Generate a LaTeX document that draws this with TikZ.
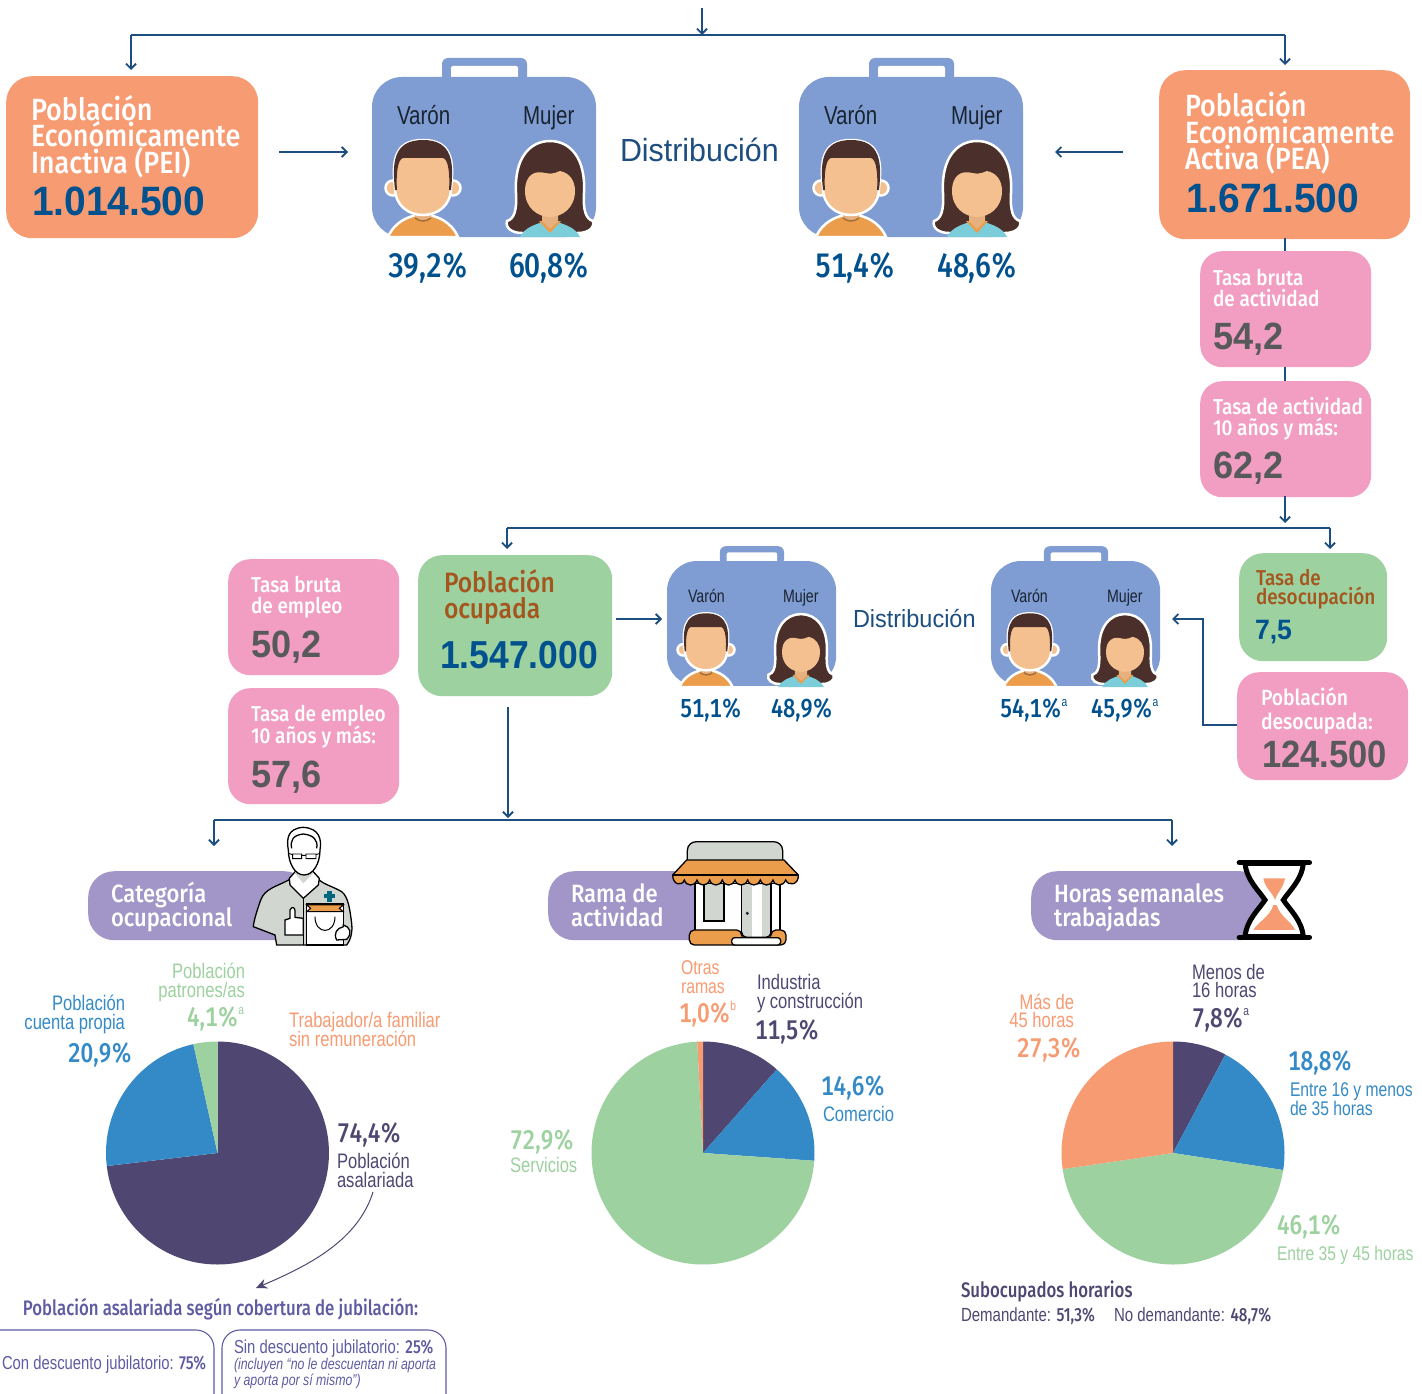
\documentclass[tikz,border=0pt]{standalone}
\usepackage{fontspec}
\usetikzlibrary{arrows.meta,calc}
\setmainfont{Liberation Sans}
\newfontfamily\fcond[FakeStretch=.79]{Liberation Sans}
\newfontfamily\fcondb[FakeStretch=.8]{Fira Sans Medium}
\newfontfamily\fnum[FakeStretch=.84,Numbers=Monospaced]{Fira Sans Medium}
\newfontfamily\fmed[FakeStretch=.88]{Fira Sans Medium}
\newfontfamily\fnorm[FakeStretch=.95]{Liberation Sans}
\newfontfamily\fbig[FakeStretch=.95]{Liberation Sans Bold}
\newfontfamily\fbigt[FakeStretch=.91]{Liberation Sans Bold}
\newcommand\fs[2]{\lineskiplimit=-100pt\fontsize{#1}{#2}\selectfont}
\newcommand\supx[1]{\raisebox{.42em}{\fcond\fs{13}{13}#1}}
\definecolor{cdark}{HTML}{4F4772}
\definecolor{cblue}{HTML}{348AC7}
\definecolor{cgreen}{HTML}{9DD19F}
\definecolor{corange}{HTML}{F79B72}
\definecolor{cpink}{HTML}{F19EC2}
\definecolor{clav}{HTML}{A196C7}
\definecolor{cnavy}{HTML}{00518D}
\definecolor{cline}{HTML}{1D4E80}
\definecolor{cgrayt}{HTML}{58595B}
\definecolor{cbrown}{HTML}{A5561E}
\definecolor{cindigo}{HTML}{5F5BA3}
\definecolor{ccase}{HTML}{7F9CD3}
\definecolor{cskin}{HTML}{F4C08F}
\definecolor{cneck}{HTML}{E7B07F}
\definecolor{chair}{HTML}{4B2F2A}
\definecolor{cshirt}{HTML}{EC9D4B}
\definecolor{ccyan}{HTML}{7BCDD9}
\definecolor{cicon}{HTML}{D1D6D0}
\definecolor{cink}{HTML}{1A2430}
\definecolor{ccross}{HTML}{00677F}
\tikzset{
  tx/.style={inner sep=0,outer sep=0,anchor=base west,align=left},
  txr/.style={inner sep=0,outer sep=0,anchor=base east,align=right},
  flow/.style={draw=cline,line width=1.9pt},
  arr/.style={flow,-{Straight Barb[length=5pt,width=10pt,line width=1.9pt]}},
  orangebox/.style={fill=corange,rounded corners=26pt},
  pinkbox/.style={fill=cpink,rounded corners=22pt},
  greenbox/.style={fill=cgreen,rounded corners=24pt},
  lavbox/.style={fill=clav,rounded corners=26pt},
  jubbox/.style={draw=cindigo,line width=1.1pt,rounded corners=18pt},
  icon/.style={draw=black,line width=1.3pt},
  caseicon/.pic={
    \fill[ccase,rounded corners=6pt] (70,5) rectangle (155,-19);
    \fill[white,rounded corners=2pt] (79,5) rectangle (146,-11);
    \fill[ccase,rounded corners=30pt] (0,0) rectangle (224,160);
  },
  manicon/.pic={
    \path[draw=white,line width=2.5pt,fill=cshirt] (-35,54) .. controls (-28,38) and (-14,34) .. (-7,32) -- (7,32) .. controls (14,34) and (28,38) .. (35,54) -- cycle;
    \draw[white,line width=2.5pt,fill=cskin] (-30,5) circle (7.5);
    \draw[white,line width=2.5pt,fill=cskin] (30,5) circle (7.5);
    \fill[cneck] (-8,25) -- (8,25) -- (8,35) .. controls (3,39) and (-3,39) .. (-8,35) -- cycle;
    \draw[cshirt!70!black,line width=1.5pt] (-8,35) .. controls (-3,39) and (3,39) .. (8,35);
    \path[draw=white,line width=2.5pt,fill=cskin] (-28,5) .. controls (-31,-20) and (-30,-43) .. (0,-43) .. controls (30,-43) and (31,-20) .. (28,5) .. controls (28,22) and (15,32) .. (0,32) .. controls (-15,32) and (-28,22) .. (-28,5) -- cycle;
    \fill[chair] (-28,7) .. controls (-31,-20) and (-30,-43) .. (0,-43) .. controls (30,-43) and (31,-20) .. (28,7) -- (26,7) .. controls (27,-5) and (26,-24) .. (20,-25) -- (-20,-25) .. controls (-26,-24) and (-27,-5) .. (-26,7) -- cycle;
  },
  womanicon/.pic={
    \path[draw=white,line width=2.5pt,fill=chair] (-28,50) .. controls (-38,50) and (-45,45) .. (-43,38) .. controls (-36,36) and (-33,28) .. (-34,10) .. controls (-36,-25) and (-20,-42) .. (0,-42) .. controls (20,-42) and (36,-25) .. (34,10) .. controls (33,28) and (36,36) .. (43,38) .. controls (45,45) and (38,50) .. (28,50) -- cycle;
    \fill[ccyan] (-30,54) .. controls (-25,44) and (-15,42) .. (-8,39) -- (8,39) .. controls (15,42) and (25,44) .. (30,54) -- cycle;
    \fill[cshirt] (-11,38) -- (0,50) -- (11,38) -- cycle;
    \fill[cneck] (-8,28) -- (8,28) -- (8,38) -- (0,46) -- (-8,38) -- cycle;
    \fill[cskin] (-25,8) .. controls (-25,-8) and (-15,-13) .. (-5,-10) .. controls (5,-8) and (8,-12) .. (10,-12) .. controls (20,-10) and (25,-2) .. (25,8) .. controls (25,25) and (12,34) .. (0,34) .. controls (-12,34) and (-25,25) .. (-25,8) -- cycle;
  }
}
\newcommand\pieslice[5]{\fill[#5] (#1,#2) -- +({#3-90}:111.5) arc[start angle={#3-90},end angle={#4-90},radius=111.5] -- cycle;}
\begin{document}
\begin{tikzpicture}[x=1pt,y=1pt,yscale=-1]
\useasboundingbox (0,0) rectangle (1422,1394);
\fill[white] (0,0) rectangle (1422,1394);

% coloured boxes
\node[orangebox,minimum width=252pt,minimum height=162pt,anchor=north west] (pei) at (6,76) {};
\node[orangebox,minimum width=251pt,minimum height=169pt,anchor=north west] (pea) at (1159,70) {};
\node[pinkbox,minimum width=171pt,minimum height=116pt,anchor=north west] (tba) at (1200,251) {};
\node[pinkbox,minimum width=171pt,minimum height=116pt,anchor=north west] (tam) at (1200,381) {};
\node[pinkbox,minimum width=171pt,minimum height=116pt,anchor=north west] (tbe) at (228,559) {};
\node[pinkbox,minimum width=171pt,minimum height=116pt,anchor=north west] (tem) at (228,688) {};
\node[greenbox,minimum width=194pt,minimum height=141pt,anchor=north west] (ocu) at (418,555) {};
\node[greenbox,minimum width=148pt,minimum height=108pt,anchor=north west] (tde) at (1239,553) {};
\node[pinkbox,minimum width=171pt,minimum height=108pt,anchor=north west] (des) at (1237,672) {};
\node[lavbox,minimum width=222pt,minimum height=69pt,anchor=north west] (cat) at (88,871) {};
\node[lavbox,minimum width=170pt,minimum height=69pt,anchor=north west] (ram) at (548,871) {};
\node[lavbox,minimum width=235pt,minimum height=69pt,anchor=north west] (hor) at (1031,871) {};

% connectors
\coordinate (topin) at (702,8);
\coordinate (topj) at (702,35);
\coordinate (tl) at (131,35);
\coordinate (tr) at (1285,35);
\coordinate (peiin) at (131,70);
\coordinate (peain) at (1285,65);
\draw[arr] (topin) -- (topj);
\draw[flow] (tl) -- (tr);
\draw[arr] (tl) -- (peiin);
\draw[arr] (tr) -- (peain);
\coordinate (a1s) at (279,152); \coordinate (a1e) at (348,152);
\coordinate (a2s) at (1123,152); \coordinate (a2e) at (1055,152);
\draw[arr] (a1s) -- (a1e);
\draw[arr] (a2s) -- (a2e);
\draw[flow] (1285,238) -- (tba.north -| 1285,251);
\draw[flow] (tba.south -| 1285,367) -- (tam.north -| 1285,381);
\coordinate (d1) at (1285,496); \coordinate (d2) at (1285,523);
\draw[arr] (d1) -- (d2);
\coordinate (ml) at (507,528); \coordinate (mr) at (1330,528);
\coordinate (mlin) at (507,549); \coordinate (mrin) at (1330,549);
\draw[flow] (ml) -- (mr);
\draw[arr] (ml) -- (mlin);
\draw[arr] (mr) -- (mrin);
\coordinate (b1s) at (616,619); \coordinate (b1e) at (662,619);
\draw[arr] (b1s) -- (b1e);
\coordinate (e1) at (1237,725); \coordinate (e2) at (1203,725); \coordinate (e3) at (1203,619); \coordinate (e4) at (1172,619);
\draw[arr] (e1) -- (e2) -- (e3) -- (e4);
\coordinate (o1) at (508,707); \coordinate (o2) at (508,818);
\draw[arr] (o1) -- (o2);
\coordinate (bl) at (214,820); \coordinate (br) at (1172,820);
\coordinate (blin) at (214,846); \coordinate (brin) at (1172,846);
\draw[flow] (bl) -- (br);
\draw[arr] (bl) -- (blin);
\draw[arr] (br) -- (brin);
\coordinate (c1) at (373,1192); \coordinate (c2) at (256,1288);
\draw[cdark,line width=1pt,-{Stealth[length=11pt,width=10pt]}] (c1) .. controls (358,1240) and (310,1265) .. (c2);

% briefcases and people
\pic[yscale=-1] at (372,77) {caseicon};
\pic[yscale=-1] at (799,77) {caseicon};
\pic[xscale=.755,yscale=-.78] at (667,561) {caseicon};
\pic[xscale=.755,yscale=-.78] at (991,561) {caseicon};
\pic[yscale=-1] at (423,183) {manicon};
\pic[yscale=-1] at (550,183) {womanicon};
\pic[yscale=-1] at (851,183) {manicon};
\pic[yscale=-1] at (977,183) {womanicon};
\pic[xscale=.76,yscale=-.76] at (706,646) {manicon};
\pic[xscale=.76,yscale=-.76] at (801,646) {womanicon};
\pic[xscale=.76,yscale=-.76] at (1030,646) {manicon};
\pic[xscale=.76,yscale=-.76] at (1125,646) {womanicon};

% box texts
\node[tx,white,font={\fmed\fs{30.7}{26.5}}] (tpei) at (31,173) {Población\\Económicamente\\Inactiva (PEI)};
\node[tx,cnavy,font={\fbig\fs{41}{41}}] (npei) at (32,215) {1.014.500};
\node[tx,white,font={\fmed\fs{30.7}{26.5}}] (tpea) at (1185,170) {Población\\Económicamente\\Activa (PEA)};
\node[tx,cnavy,font={\fbig\fs{41}{41}}] (npea) at (1186,212) {1.671.500};
\node[tx,white,font={\fmed\fs{21.6}{21}}] (t1) at (1213,306) {Tasa bruta\\de actividad};
\node[tx,cgrayt,font={\fbig\fs{38}{38}}] (n1) at (1213,349) {54,2};
\node[tx,white,font={\fmed\fs{21.6}{21}}] (t2) at (1213,435) {Tasa de actividad\\10 años y más:};
\node[tx,cgrayt,font={\fbig\fs{38}{38}}] (n2) at (1213,478) {62,2};
\node[tx,white,font={\fmed\fs{21.6}{21}}] (t3) at (251,613) {Tasa bruta\\de empleo};
\node[tx,cgrayt,font={\fbig\fs{38}{38}}] (n3) at (251,657) {50,2};
\node[tx,white,font={\fmed\fs{21.6}{22}}] (t4) at (251,743) {Tasa de empleo\\10 años y más:};
\node[tx,cgrayt,font={\fbig\fs{38}{38}}] (n4) at (251,787) {57,6};
\node[tx,cbrown,font={\fmed\fs{28}{26}}] (t5) at (444,618) {Población\\ocupada};
\node[tx,cnavy,font={\fbigt\fs{39}{39}}] (n5) at (440,668) {1.547.000};
\node[tx,cbrown,font={\fmed\fs{21.5}{19}}] (t6) at (1256,604) {Tasa de\\desocupación};
\node[tx,cnavy,font={\fbig\fs{28}{28}}] (n6) at (1255,639) {7,5};
\node[tx,white,font={\fmed\fs{22}{24}}] (t7) at (1261,729) {Población\\desocupada:};
\node[tx,cgrayt,font={\fbigt\fs{38}{38}}] (n7) at (1262,767) {124.500};
\node[tx,white,font={\fmed\fs{25}{24}}] (h1) at (111,926) {Categoría\\ocupacional};
\node[tx,white,font={\fmed\fs{25}{24}}] (h2) at (571,926) {Rama de\\actividad};
\node[tx,white,font={\fmed\fs{25}{24}}] (h3) at (1054,926) {Horas semanales\\trabajadas};

% distribution texts
\node[tx,font={\fnorm\fs{32}{32}},cline] (dis1) at (620,162) {Distribución};
\node[tx,font={\fnorm\fs{24.7}{25}},cline] (dis2) at (853,627) {Distribución};
\node[tx,cink,font={\fcond\fs{26}{26}}] (v1) at (397,125) {Varón};
\node[tx,cink,font={\fcond\fs{26}{26}}] (m1) at (523,125) {Mujer};
\node[tx,cink,font={\fcond\fs{26}{26}}] (v2) at (824,125) {Varón};
\node[tx,cink,font={\fcond\fs{26}{26}}] (m2) at (951,125) {Mujer};
\node[tx,cink,font={\fcond\fs{18}{18}}] (v3) at (688,602) {Varón};
\node[tx,cink,font={\fcond\fs{18}{18}}] (m3) at (783,602) {Mujer};
\node[tx,cink,font={\fcond\fs{18}{18}}] (v4) at (1011,602) {Varón};
\node[tx,cink,font={\fcond\fs{18}{18}}] (m4) at (1107,602) {Mujer};
\node[tx,cnavy,font={\fnum\fs{34}{34}}] (p1) at (388,277) {39,2\%};
\node[tx,cnavy,font={\fnum\fs{34}{34}}] (p2) at (509,277) {60,8\%};
\node[tx,cnavy,font={\fnum\fs{34}{34}}] (p3) at (815,277) {51,4\%};
\node[tx,cnavy,font={\fnum\fs{34}{34}}] (p4) at (937,277) {48,6\%};
\node[tx,cnavy,font={\fnum\fs{26}{26}}] (p5) at (680,717) {51,1\%};
\node[tx,cnavy,font={\fnum\fs{26}{26}}] (p6) at (771,717) {48,9\%};
\node[tx,cnavy,font={\fnum\fs{26}{26}}] (p7) at (1000,717) {54,1\%\supx{a}};
\node[tx,cnavy,font={\fnum\fs{26}{26}}] (p8) at (1091,717) {45,9\%\supx{a}};

% icons
\begin{scope}[shift={(240,820)},scale=.3333]
  \path[icon,fill=cicon] (150,178) .. controls (110,200) and (75,205) .. (62,240) .. controls (50,275) and (42,300) .. (40,320) -- (105,345) -- (110,375) -- (320,375) .. controls (335,355) and (338,330) .. (335,310) .. controls (330,270) and (325,230) .. (305,215) .. controls (280,200) and (255,195) .. (235,178) -- cycle;
  \path[icon,fill=white] (170,150) -- (148,175) -- (150,195) -- (190,235) -- (235,195) -- (238,175) -- (215,150) .. controls (200,165) and (185,165) .. (170,150) -- cycle;
  \fill[cicon] (165,160) -- (190,190) -- (220,160) -- (215,145) -- (170,145) -- cycle;
  \draw[icon] (190,235) -- (190,375);
  \path[icon,fill=white] (145,90) .. controls (140,60) and (140,25) .. (190,22) .. controls (240,25) and (245,60) .. (240,90) .. controls (240,130) and (220,165) .. (192,165) .. controls (165,165) and (145,130) .. (145,90) -- cycle;
  \draw[icon] (155,85) .. controls (150,60) and (160,45) .. (190,42) .. controls (220,45) and (235,60) .. (230,85);
  \draw[black,line width=.9pt] (158,102) rectangle (185,116) (198,102) rectangle (228,116) (185,106) -- (198,106) (145,100) -- (158,104) (228,104) -- (240,100);
  \fill[ccross] (251,222) rectangle (285,235);
  \fill[ccross] (261,212) rectangle (275,245);
  \path[icon,fill=white] (200,252) rectangle (310,375);
  \path[draw=black,line width=1pt,fill=cshirt] (200,255) -- (310,255) -- (298,265) -- (310,275) -- (200,275) -- (212,265) -- cycle;
  \draw[black,line width=1pt] (225,290) .. controls (225,345) and (285,345) .. (285,290);
  \path[icon,fill=white] (135,300) -- (150,295) -- (150,270) .. controls (155,258) and (165,262) .. (165,272) -- (165,292) -- (190,295) -- (190,345) -- (135,345) -- cycle;
  \path[icon,fill=white] (310,315) .. controls (330,320) and (338,340) .. (320,358) -- (290,360) .. controls (280,340) and (290,325) .. (310,320) -- cycle;
\end{scope}
\begin{scope}[shift={(660,830)},scale=.3333]
  \path[icon,fill=white] (105,160) rectangle (360,305);
  \path[icon,fill=cicon] (132,160) rectangle (192,273);
  \path[icon,fill=cicon] (245,160) rectangle (333,322);
  \fill[white] (275,165) rectangle (305,320);
  \fill[cink] (262,250) circle (5);
  \path[icon,fill=cicon] (82,95) -- (82,62) .. controls (82,45) and (95,35) .. (110,35) -- (340,35) .. controls (355,35) and (368,45) .. (368,62) -- (368,95) -- cycle;
  \path[icon,fill=cshirt] (80,90) -- (372,90) -- (415,135) .. controls (417,165) and (385,170) .. (377,150) .. controls (370,170) and (345,170) .. (339,150) .. controls (332,170) and (307,170) .. (301,150) .. controls (294,170) and (269,170) .. (263,150) .. controls (256,170) and (231,170) .. (225,150) .. controls (218,170) and (193,170) .. (187,150) .. controls (180,170) and (155,170) .. (149,150) .. controls (142,170) and (117,170) .. (111,150) .. controls (104,170) and (79,170) .. (73,150) .. controls (66,170) and (38,165) .. (38,135) -- cycle;
  \draw[icon] (38,135) -- (415,135);
  \path[icon,fill=cshirt,rounded corners=5pt] (88,345) -- (88,300) -- (245,300) -- (245,322) -- (333,322) -- (333,300) -- (378,300) -- (378,345) -- cycle;
  \path[icon,fill=white,rounded corners=3pt] (215,345) -- (215,323) -- (362,323) -- (362,345) -- cycle;
\end{scope}
\begin{scope}[shift={(1220,850)},scale=.3333]
  \path[fill=white,draw=black,line width=5pt] (75,40) .. controls (80,90) and (115,120) .. (135,150) .. controls (115,180) and (80,210) .. (75,260) -- (250,260) .. controls (245,210) and (210,180) .. (190,150) .. controls (210,120) and (245,90) .. (250,40) -- cycle;
  \fill[corange] (130,85) -- (195,85) .. controls (190,115) and (170,130) .. (165,150) .. controls (160,130) and (135,115) .. (130,85) -- cycle;
  \fill[corange] (100,240) .. controls (115,215) and (150,200) .. (160,165) -- (170,165) .. controls (180,200) and (215,215) .. (225,240) -- cycle;
  \draw[black,line width=5.5pt,line cap=round] (58,38) -- (268,38) (58,262) -- (268,262);
\end{scope}

% pies
\pieslice{217.5}{1153}{0}{263.3}{cdark}
\pieslice{217.5}{1153}{263.3}{347.5}{cblue}
\pieslice{217.5}{1153}{347.5}{360}{cgreen}
\pieslice{703}{1153}{0}{41.4}{cdark}
\pieslice{703}{1153}{41.4}{94}{cblue}
\pieslice{703}{1153}{94}{357}{cgreen}
\pieslice{703}{1153}{357}{360}{corange}
\pieslice{1173}{1153}{0}{28}{cdark}
\pieslice{1173}{1153}{28}{98.8}{cblue}
\pieslice{1173}{1153}{98.8}{261.7}{cgreen}
\pieslice{1173}{1153}{261.7}{360}{corange}

% pie labels
\node[txr,cgreen,font={\fcond\fs{21}{19}}] (a1) at (245,997) {Población\\patrones/as};
\node[tx,cgreen,font={\fnum\fs{27}{27}}] (a2) at (187,1026) {4,1\%\supx{a}};
\node[txr,cblue,font={\fcond\fs{21}{19}}] (a3) at (125,1029) {Población\\cuenta propia};
\node[tx,cblue,font={\fnum\fs{27}{27}}] (a4) at (68,1062) {20,9\%};
\node[tx,corange,font={\fcond\fs{21}{19}}] (a5) at (289,1046) {Trabajador/a familiar\\sin remuneración};
\node[tx,cdark,font={\fnum\fs{27}{27}}] (a6) at (337,1142) {74,4\%};
\node[tx,cdark,font={\fcond\fs{21}{19}}] (a7) at (337,1187) {Población\\asalariada};
\node[tx,cindigo,font={\fcondb\fs{21}{21}}] (a8) at (23,1315) {Población asalariada según cobertura de jubilación:};
\draw[jubbox] (-20,1330) rectangle (214,1420);
\draw[jubbox] (222,1330) rectangle (446,1420);
\node[tx,cindigo,font={\fcond\fs{18.8}{20}}] (a9) at (2,1369) {Con descuento jubilatorio: {\fcondb 75\%}};
\node[tx,cindigo,font={\fcond\fs{18.8}{20}}] (a10) at (234,1353) {Sin descuento jubilatorio: {\fcondb 25\%}};
\node[tx,cindigo,font={\fcond\itshape\fs{15.6}{16}}] (a11) at (234,1385) {(incluyen “no le descuentan ni aporta\\y aporta por sí mismo”)};

\node[tx,corange,font={\fcond\fs{20}{19}}] (b1) at (681,993) {Otras\\ramas};
\node[tx,corange,font={\fnum\fs{27}{27}}] (b2) at (679,1022) {1,0\%\supx{b}};
\node[tx,cdark,font={\fcond\fs{21}{19}}] (b3) at (757,1008) {Industria\\y construcción};
\node[tx,cdark,font={\fnum\fs{27}{27}}] (b4) at (755,1039) {11,5\%};
\node[tx,cblue,font={\fnum\fs{27}{27}}] (b5) at (821,1095) {14,6\%};
\node[tx,cblue,font={\fcond\fs{21}{21}}] (b6) at (823,1121) {Comercio};
\node[tx,cgreen,font={\fnum\fs{27}{27}}] (b7) at (510,1149) {72,9\%};
\node[tx,cgreen,font={\fcond\fs{21}{21}}] (b8) at (510,1172) {Servicios};

\node[tx,cdark,font={\fcond\fs{21}{18}}] (c1t) at (1192,997) {Menos de\\16 horas};
\node[tx,cdark,font={\fnum\fs{27}{27}}] (c2t) at (1192,1027) {7,8\%\supx{a}};
\node[txr,corange,font={\fcond\fs{21}{18}}] (c3t) at (1074,1027) {Más de\\45 horas};
\node[tx,corange,font={\fnum\fs{27}{27}}] (c4t) at (1017,1057) {27,3\%};
\node[tx,cblue,font={\fnum\fs{27}{27}}] (c5t) at (1288,1070) {18,8\%};
\node[tx,cblue,font={\fcond\fs{19.8}{19}}] (c6t) at (1290,1115) {Entre 16 y menos\\de 35 horas};
\node[tx,cgreen,font={\fnum\fs{27}{27}}] (c7t) at (1277,1234) {46,1\%};
\node[tx,cgreen,font={\fcond\fs{19.8}{21}}] (c8t) at (1277,1260) {Entre 35 y 45 horas};
\node[tx,cdark,font={\fcondb\fs{21}{22}}] (c9t) at (961,1297) {Subocupados horarios};
\node[tx,cdark,font={\fcond\fs{19}{19}}] (c10t) at (961,1321) {Demandante: {\fcondb 51,3\%}\hspace{19pt}No demandante: {\fcondb 48,7\%}};
\end{tikzpicture}
\end{document}
